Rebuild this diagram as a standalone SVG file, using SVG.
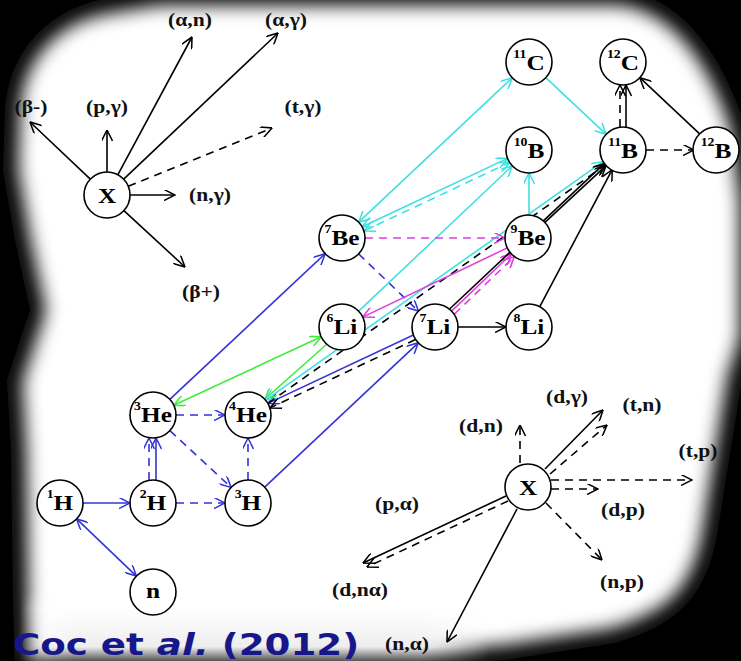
<svg xmlns="http://www.w3.org/2000/svg" width="741" height="661" viewBox="0 0 741 661">
<style>
.nd circle{fill:#fff;stroke:#000;stroke-width:1.6}
.lb{font-family:"Liberation Serif","Times New Roman",serif;font-weight:bold;font-size:22px;text-anchor:middle;fill:#000}
.sup{font-size:12px}
.rl{font-family:"Liberation Serif","Times New Roman",serif;font-weight:bold;font-size:18px;text-anchor:middle;fill:#111}
.cap{font-family:"DejaVu Sans","Liberation Sans",sans-serif;font-weight:bold;font-size:31px;fill:#17178a}
.c{fill:none;stroke-width:1.6}
.bk{stroke:#000}
.bl{stroke:#3434d8}
.cy{stroke:#3fe0e0}
.gr{stroke:#3cee3c}
.mg{stroke:#e03ce0}
.d{stroke-dasharray:8 6}
.bk.e{marker-end:url(#ak)}
.bl.e{marker-end:url(#ab)}
.cy.e{marker-end:url(#ac)}
.gr.e{marker-end:url(#ag)}
.mg.e{marker-end:url(#am)}
.bl.s{marker-start:url(#ab)}
.cy.s{marker-start:url(#ac)}
.gr.s{marker-start:url(#ag)}
</style>
<defs>
<filter id="blur" x="-0.2" y="-0.2" width="1.4" height="1.4"><feGaussianBlur stdDeviation="9"/></filter>
<linearGradient id="bot" x1="0" y1="0" x2="0" y2="1"><stop offset="0" stop-color="#fff" stop-opacity="0"/><stop offset="0.25" stop-color="#fff" stop-opacity="1"/><stop offset="0.8" stop-color="#eee" stop-opacity="1"/><stop offset="1" stop-color="#555" stop-opacity="1"/></linearGradient>
<linearGradient id="botx" x1="0" y1="0" x2="1" y2="0"><stop offset="0" stop-color="#fff" stop-opacity="0"/><stop offset="0.12" stop-color="#fff" stop-opacity="1"/><stop offset="0.85" stop-color="#fff" stop-opacity="1"/><stop offset="1" stop-color="#fff" stop-opacity="0"/></linearGradient>
<mask id="botm" maskUnits="userSpaceOnUse" x="0" y="590" width="741" height="71"><rect x="20" y="590" width="470" height="71" fill="url(#botx)"/></mask>
<path id="vig" d="M110,-2 L160,-10 L620,-10 C670,-5 715,35 745,125 L755,200 L755,340 L742,380 L729,460 L717,535 C705,600 675,625 615,643 L505,660 L380,672 L15,676 L13,600 L11,450 L7,380 L30,310 L15,240 L3,170 L5,110 C8,55 45,8 110,-2 Z"/>
<marker id="ak" viewBox="0 0 10 10" refX="10" refY="5" markerWidth="12" markerHeight="11" markerUnits="userSpaceOnUse" orient="auto-start-reverse"><path d="M0,0 L10,5 L0,10" fill="none" stroke="#000" stroke-width="1.4"/></marker>
<marker id="ab" viewBox="0 0 10 10" refX="10" refY="5" markerWidth="12" markerHeight="11" markerUnits="userSpaceOnUse" orient="auto-start-reverse"><path d="M0,0 L10,5 L0,10" fill="none" stroke="#3434d8" stroke-width="1.4"/></marker>
<marker id="ac" viewBox="0 0 10 10" refX="10" refY="5" markerWidth="12" markerHeight="11" markerUnits="userSpaceOnUse" orient="auto-start-reverse"><path d="M0,0 L10,5 L0,10" fill="none" stroke="#3fe0e0" stroke-width="1.4"/></marker>
<marker id="ag" viewBox="0 0 10 10" refX="10" refY="5" markerWidth="12" markerHeight="11" markerUnits="userSpaceOnUse" orient="auto-start-reverse"><path d="M0,0 L10,5 L0,10" fill="none" stroke="#3cee3c" stroke-width="1.4"/></marker>
<marker id="am" viewBox="0 0 10 10" refX="10" refY="5" markerWidth="12" markerHeight="11" markerUnits="userSpaceOnUse" orient="auto-start-reverse"><path d="M0,0 L10,5 L0,10" fill="none" stroke="#e03ce0" stroke-width="1.4"/></marker>
</defs>

<g id="background">
<rect x="0" y="0" width="741" height="661" fill="#000"/>
<use href="#vig" fill="#fff"/>
<use href="#vig" fill="none" stroke="#000" stroke-width="30" filter="url(#blur)"/>
<rect x="20" y="590" width="470" height="71" fill="url(#bot)" mask="url(#botm)"/>
</g>

<g id="connectors">
<!-- blue -->
<path class="c bl e" d="M83,503 L130,503"/>
<path class="c bl e s" d="M76.6,518.9 L136.4,576.1"/>
<path class="c bl e" d="M156,480 L156,438"/>
<path class="c bl e d" d="M149,480 L149,438"/>
<path class="c bl e d" d="M176,503 L225,503"/>
<path class="c bl e d" d="M176,415 L225,415"/>
<path class="c bl e d" d="M169.9,430.6 L231.1,487.4"/>
<path class="c bl e d" d="M248,480 L248,438"/>
<path class="c bl e" d="M169.8,399.3 L325.2,253.7"/>
<path class="c bl e" d="M264.7,487.2 L418.3,342.8"/>
<path class="c bl e" d="M413.4,335 L268,403.4"/>
<path class="c bk e d" d="M415.5,339.5 L270.1,407.9"/>
<path class="c bl e d" d="M358.6,253.9 L418.4,311.1"/>
<!-- green -->
<path class="c gr e s" d="M173.8,405.3 L321.2,336.7"/>
<path class="c gr e" d="M327,344 L265,399"/>
<!-- cyan -->
<path class="c cy e s" d="M265.6,400.1 L603,161.7"/>
<path class="c bk e d" d="M268,403.3 L605.4,164.9"/>
<path class="c cy e s" d="M358.7,222.2 L512.3,77.8"/>
<path class="c cy e" d="M545.8,77.7 L606.2,134.3"/>
<path class="c cy e s" d="M362.2,226.8 L507.6,158.4"/>
<path class="c cy e s d" d="M364.1,230.9 L509.5,162.5"/>
<path class="c cy e" d="M358.7,311.2 L512.3,165.8"/>
<path class="c cy e" d="M529,215 L529,173"/>
<!-- magenta -->
<path class="c mg e d" d="M365,238 L505,238"/>
<path class="c mg e" d="M507.3,247.9 L362.7,317.1"/>
<path class="c mg e" d="M451.6,311.1 L511.4,253.9"/>
<path class="c mg e d" d="M454.4,314 L514.2,256.8"/>
<!-- black -->
<path class="c bk e" d="M449.6,309 L604.2,163.6"/>
<path class="c bk e" d="M544.9,222.4 L606.1,165.6"/>
<path class="c bk e" d="M539.8,306.7 L612.2,169.7"/>
<path class="c bk e" d="M458,327 L506,327"/>
<path class="c bk e" d="M626,127 L626,85"/>
<path class="c bk e d" d="M620,127 L620,85"/>
<path class="c bk e" d="M700.2,134.3 L639.8,77.7"/>
<path class="c bk e d" d="M646,150 L694,150"/>
<!-- legend top-left -->
<path class="c bk e" d="M90.3,179.2 L30,122"/>
<path class="c bk e" d="M107,172 L107,130"/>
<path class="c bk e" d="M117.9,174.7 L192,37"/>
<path class="c bk e" d="M123.7,179.2 L278,33"/>
<path class="c bk e d" d="M128.3,186.3 L272,128"/>
<path class="c bk e" d="M130,195 L175,195"/>
<path class="c bk e" d="M123.9,210.6 L185,267"/>
<!-- legend bottom-right -->
<path class="c bk e d" d="M520,463 L520,425"/>
<path class="c bk e" d="M545,469 L603,410"/>
<path class="c bk e d" d="M550,474 L607,425"/>
<path class="c bk e d" d="M551,480 L692,480"/>
<path class="c bk e d" d="M551,489 L598,489"/>
<path class="c bk e d" d="M546,503 L602,560"/>
<path class="c bk e" d="M506,496 L363,563"/>
<path class="c bk e d" d="M508,501 L367,567"/>
<path class="c bk e" d="M517,509 L447,642"/>
</g>

<g id="n-X1" class="nd" transform="translate(107,195)"><circle r="23"/><text class="lb" y="8" transform="scale(1.15,1)">X</text></g>
<g id="n-X2" class="nd" transform="translate(528,487)"><circle r="23"/><text class="lb" y="8" transform="scale(1.15,1)">X</text></g>
<g id="n-H1" class="nd" transform="translate(60,503)"><circle r="23"/><text class="lb" y="7" transform="scale(1.15,1)"><tspan class="sup" dy="-12">1</tspan><tspan dy="12">H</tspan></text></g>
<g id="n-H2" class="nd" transform="translate(153,503)"><circle r="23"/><text class="lb" y="7" transform="scale(1.15,1)"><tspan class="sup" dy="-12">2</tspan><tspan dy="12">H</tspan></text></g>
<g id="n-H3" class="nd" transform="translate(248,503)"><circle r="23"/><text class="lb" y="7" transform="scale(1.15,1)"><tspan class="sup" dy="-12">3</tspan><tspan dy="12">H</tspan></text></g>
<g id="n-n" class="nd" transform="translate(153,592)"><circle r="23"/><text class="lb" y="6" transform="scale(1.15,1)">n</text></g>
<g id="n-He3" class="nd" transform="translate(153,415)"><circle r="23"/><text class="lb" y="7" transform="scale(1.15,1)"><tspan class="sup" dy="-12">3</tspan><tspan dy="12">He</tspan></text></g>
<g id="n-He4" class="nd" transform="translate(248,415)"><circle r="23"/><text class="lb" y="7" transform="scale(1.15,1)"><tspan class="sup" dy="-12">4</tspan><tspan dy="12">He</tspan></text></g>
<g id="n-Li6" class="nd" transform="translate(342,327)"><circle r="23"/><text class="lb" y="7" transform="scale(1.15,1)"><tspan class="sup" dy="-12">6</tspan><tspan dy="12">Li</tspan></text></g>
<g id="n-Li7" class="nd" transform="translate(435,327)"><circle r="23"/><text class="lb" y="7" transform="scale(1.15,1)"><tspan class="sup" dy="-12">7</tspan><tspan dy="12">Li</tspan></text></g>
<g id="n-Li8" class="nd" transform="translate(529,327)"><circle r="23"/><text class="lb" y="7" transform="scale(1.15,1)"><tspan class="sup" dy="-12">8</tspan><tspan dy="12">Li</tspan></text></g>
<g id="n-Be7" class="nd" transform="translate(342,238)"><circle r="23"/><text class="lb" y="7" transform="scale(1.15,1)"><tspan class="sup" dy="-12">7</tspan><tspan dy="12">Be</tspan></text></g>
<g id="n-Be9" class="nd" transform="translate(528,238)"><circle r="23"/><text class="lb" y="7" transform="scale(1.15,1)"><tspan class="sup" dy="-12">9</tspan><tspan dy="12">Be</tspan></text></g>
<g id="n-B10" class="nd" transform="translate(529,150)"><circle r="23"/><text class="lb" y="8" transform="scale(1.15,1)"><tspan class="sup" dy="-12">10</tspan><tspan dy="12">B</tspan></text></g>
<g id="n-B11" class="nd" transform="translate(623,150)"><circle r="23"/><text class="lb" y="8" transform="scale(1.15,1)"><tspan class="sup" dy="-12">11</tspan><tspan dy="12">B</tspan></text></g>
<g id="n-B12" class="nd" transform="translate(716,150)"><circle r="23"/><text class="lb" y="8" transform="scale(1.15,1)"><tspan class="sup" dy="-12">12</tspan><tspan dy="12">B</tspan></text></g>
<g id="n-C11" class="nd" transform="translate(529,62)"><circle r="23"/><text class="lb" y="8" transform="scale(1.15,1)"><tspan class="sup" dy="-12">11</tspan><tspan dy="12">C</tspan></text></g>
<g id="n-C12" class="nd" transform="translate(623,62)"><circle r="23"/><text class="lb" y="8" transform="scale(1.15,1)"><tspan class="sup" dy="-12">12</tspan><tspan dy="12">C</tspan></text></g>

<g id="labels">
<text class="rl" transform="translate(31,113) scale(1.2,1)">(β-)</text>
<text class="rl" transform="translate(107,113) scale(1.2,1)">(p,γ)</text>
<text class="rl" transform="translate(190,26) scale(1.2,1)">(α,n)</text>
<text class="rl" transform="translate(286,26) scale(1.2,1)">(α,γ)</text>
<text class="rl" transform="translate(303,113) scale(1.2,1)">(t,γ)</text>
<text class="rl" transform="translate(210,201) scale(1.2,1)">(n,γ)</text>
<text class="rl" transform="translate(201,298) scale(1.2,1)">(β+)</text>
<text class="rl" transform="translate(481,432) scale(1.2,1)">(d,n)</text>
<text class="rl" transform="translate(567,403) scale(1.2,1)">(d,γ)</text>
<text class="rl" transform="translate(642,411) scale(1.2,1)">(t,n)</text>
<text class="rl" transform="translate(698,457) scale(1.2,1)">(t,p)</text>
<text class="rl" transform="translate(623,516) scale(1.2,1)">(d,p)</text>
<text class="rl" transform="translate(622,588) scale(1.2,1)">(n,p)</text>
<text class="rl" transform="translate(397,510) scale(1.2,1)">(p,α)</text>
<text class="rl" transform="translate(360,596) scale(1.2,1)">(d,nα)</text>
<text class="rl" transform="translate(407,650) scale(1.2,1)">(n,α)</text>
<text class="cap" transform="translate(13,655) scale(1.2,1)">Coc et <tspan font-style="italic">al.</tspan> (2012)</text>
</g>
</svg>
